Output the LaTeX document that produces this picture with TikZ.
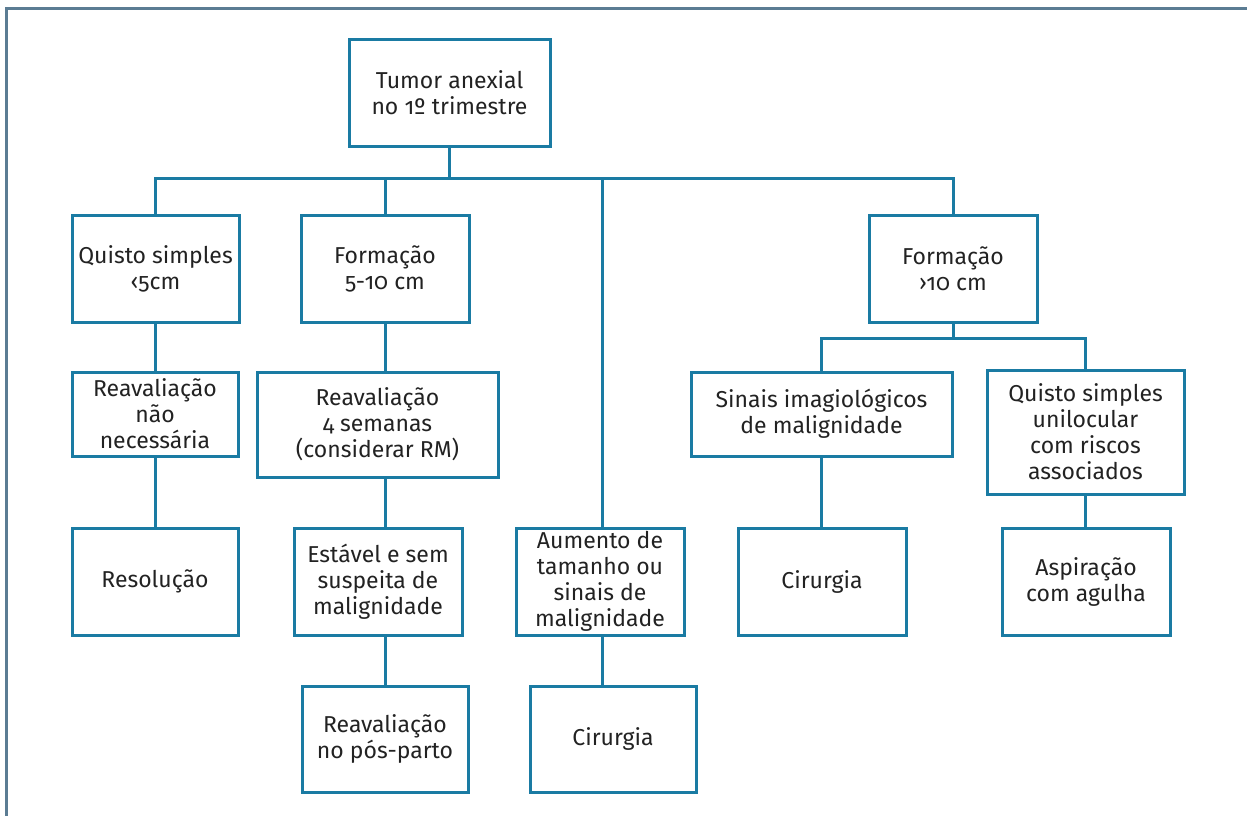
\documentclass[tikz,border=0pt]{standalone}
\usepackage{fontspec}
\setmainfont{Fira Sans}[Numbers=OldStyle]
\definecolor{boxc}{HTML}{1A7BA3}
\definecolor{framec}{HTML}{5B7C93}
\definecolor{txtc}{HTML}{222222}
\begin{document}
\begin{tikzpicture}[x=1pt,y=-1pt,
  box/.style={draw=boxc, line width=3pt, align=center, inner sep=0pt,
    text=txtc, font=\fontsize{23}{26}\selectfont},
  link/.style={draw=boxc, line width=3pt},
  frame/.style={draw=framec, line width=3pt}]
\useasboundingbox (0,0) rectangle (1247,816);
\draw[frame] (6,816) -- (6,9) -- (1247,9);
% nodes
\node[box, minimum width=201pt, minimum height=106pt] (top) at (449.5,93) {Tumor anexial\\no 1º trimestre};
\node[box, minimum width=167pt, minimum height=107pt] (q5) at (155.5,268.5) {Quisto simples\\‹5cm};
\node[box, minimum width=168pt, minimum height=107pt] (f510) at (385,268.5) {Formação\\5-10 cm};
\node[box, minimum width=168pt, minimum height=107pt] (f10) at (953,268.5) {Formação\\›10 cm};
\node[box, minimum width=166pt, minimum height=84pt] (rnn) at (155,414) {Reavaliação\\não\\necessária};
\node[box, minimum width=241pt, minimum height=105pt] (r4) at (377.5,424.5) {Reavaliação\\4 semanas\\(considerar RM)};
\node[box, minimum width=261pt, minimum height=84pt] (sin) at (821.5,414) {Sinais imagiológicos\\de malignidade};
\node[box, minimum width=197pt, minimum height=124pt] (qu) at (1085.5,432) {Quisto simples\\unilocular\\com riscos\\associados};
\node[box, minimum width=166pt, minimum height=107pt] (res) at (155,581.5) {Resolução};
\node[box, minimum width=168pt, minimum height=107pt] (est) at (378,581.5) {Estável e sem\\suspeita de\\malignidade};
\node[box, minimum width=168pt, minimum height=107pt] (aum) at (600,581.5) {Aumento de\\tamanho ou\\sinais de\\malignidade};
\node[box, minimum width=168pt, minimum height=107pt] (cir1) at (822,581.5) {Cirurgia};
\node[box, minimum width=168pt, minimum height=107pt] (asp) at (1086,581.5) {Aspiração\\com agulha};
\node[box, minimum width=166pt, minimum height=106pt] (rpp) at (385,739) {Reavaliação\\no pós-parto};
\node[box, minimum width=166pt, minimum height=106pt] (cir2) at (613,739) {Cirurgia};
% connectors
\coordinate (bus) at (0,178);
\coordinate (sbus) at (0,338);
\coordinate (mx) at (602,0);
\draw[link] (top.south) -- (top.south |- bus);
\draw[link] (q5.north) |- (f10.north |- bus) -- (f10.north);
\draw[link] (f510.north) -- (f510.north |- bus);
\draw[link] (mx |- bus) -- (mx |- aum.north);
\draw[link] (q5.south) -- (q5.south |- rnn.north);
\draw[link] (rnn.south) -- (rnn.south |- res.north);
\draw[link] (f510.south) -- (f510.south |- r4.north);
\draw[link] (f510.south |- r4.south) -- (f510.south |- est.north);
\draw[link] (f510.south |- est.south) -- (rpp.north);
\draw[link] (mx |- aum.south) -- (mx |- cir2.north);
\draw[link] (f10.south) -- (f10.south |- sbus);
\draw[link] (sin.north) |- (qu.north |- sbus) -- (qu.north);
\draw[link] (sin.south) -- (sin.south |- cir1.north);
\draw[link] (qu.south) -- (qu.south |- asp.north);
\end{tikzpicture}
\end{document}
